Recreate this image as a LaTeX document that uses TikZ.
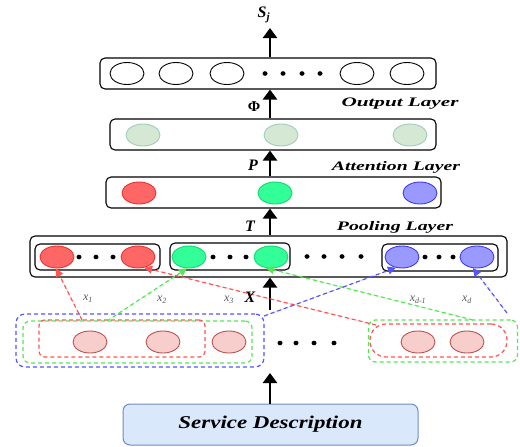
\documentclass[tikz,border=0pt]{standalone}
\usepackage{fontspec}
\setmainfont{Liberation Serif}
\usetikzlibrary{arrows.meta,shapes.geometric}
\definecolor{cred}{RGB}{255,102,102}
\definecolor{credd}{RGB}{235,50,50}
\definecolor{cgreen}{RGB}{51,255,153}
\definecolor{cgreend}{RGB}{20,215,110}
\definecolor{cblue}{RGB}{153,153,255}
\definecolor{cblued}{RGB}{60,60,240}
\definecolor{cpale}{RGB}{213,232,212}
\definecolor{cpaled}{RGB}{160,205,185}
\definecolor{cpink}{RGB}{248,206,204}
\definecolor{cpinkd}{RGB}{184,84,80}
\definecolor{csvc}{RGB}{218,232,252}
\definecolor{csvcd}{RGB}{108,142,191}
\definecolor{dred}{RGB}{255,85,85}
\definecolor{dgreen}{RGB}{85,230,85}
\definecolor{dblue}{RGB}{85,85,255}
\definecolor{lblgray}{RGB}{90,90,90}
\newcommand\lbl[3]{\resizebox{#1pt}{\height}{\fontsize{#2}{#2}\selectfont\bfseries\itshape #3}}
\begin{document}
\begin{tikzpicture}[x=1pt,y=-1pt,
  layerbox/.style={draw=black, line width=1.1pt, rounded corners=5pt, inner sep=0pt},
  cir/.style={ellipse, minimum width=34pt, minimum height=22pt, inner sep=0pt, line width=0.9pt},
  outc/.style={cir, draw=black, fill=white},
  palec/.style={cir, draw=cpaled, fill=cpale},
  redc/.style={cir, draw=credd, fill=cred},
  greenc/.style={cir, draw=cgreend, fill=cgreen},
  bluec/.style={cir, draw=cblued, fill=cblue},
  pinkc/.style={cir, draw=cpinkd, fill=cpink},
  dotn/.style={ellipse, fill=black, minimum width=5pt, minimum height=4.6pt, inner sep=0pt},
  bigarrow/.style={line width=2.4pt, -{Triangle[length=10pt,width=14pt]}},
  dashbox/.style={dashed, dash pattern=on 4pt off 3pt, line width=1.2pt, inner sep=0pt},
  darrow/.style={dash pattern=on 4pt off 3pt, line width=1.2pt, -{Triangle[length=8pt,width=8pt]}},
  xlab/.style={text=lblgray, font=\fontsize{12}{12}\selectfont\itshape},
  sym/.style={font=\fontsize{16}{16}\selectfont\bfseries\itshape}
]
\useasboundingbox (0,0) rectangle (520,447);
\coordinate (spine) at (270,0);

% layer boxes
\node[layerbox, minimum width=336pt, minimum height=31pt] (outbox) at (268,73.5) {};
\node[layerbox, minimum width=326pt, minimum height=31pt] (pale) at (273,134.5) {};
\node[layerbox, minimum width=335pt, minimum height=31pt] (rgb) at (273.5,192.5) {};
\node[layerbox, minimum width=477pt, minimum height=41pt] (pool) at (268.5,256.5) {};
\node[layerbox, minimum width=125pt, minimum height=26pt] (inA) at (97.5,257) {};
\node[layerbox, minimum width=120pt, minimum height=27pt] (inB) at (230,256.5) {};
\node[layerbox, minimum width=116pt, minimum height=27pt] (inC) at (440,257.5) {};
\node[draw=csvcd, fill=csvc, line width=1pt, rounded corners=7pt, minimum width=295pt, minimum height=41pt, inner sep=0pt] (svc) at (270.5,424.5) {\lbl{184}{18}{Service Description}};

% output circles
\node[outc] (o1) at (127,73.5) {};
\node[outc] (o2) at (176,73.5) {};
\node[outc] (o3) at (227,73.5) {};
\node[outc] (o4) at (357,73.5) {};
\node[outc] (o5) at (407,73.5) {};
\node[dotn] (od1) at (265,73.5) {};
\node[dotn] (od2) at (283,73.5) {};
\node[dotn] (od3) at (302,73.5) {};
\node[dotn] (od4) at (320,73.5) {};

% pale circles
\node[palec] (p1) at (143,135) {};
\node[palec] (p2) at (281,135) {};
\node[palec] (p3) at (410,135) {};

% rgb circles
\node[redc] (a1) at (139,193) {};
\node[greenc] (a2) at (275,193) {};
\node[bluec] (a3) at (420,193) {};

% pooling circles
\node[redc] (r1) at (57,257) {};
\node[redc] (r2) at (138,257) {};
\node[greenc] (g1) at (189,257) {};
\node[greenc] (g2) at (271,257) {};
\node[bluec] (b1) at (402,257) {};
\node[bluec] (b2) at (477,257) {};
\node[dotn] (ad1) at (79,257) {};
\node[dotn] (ad2) at (96,257) {};
\node[dotn] (ad3) at (113,257) {};
\node[dotn] (bd1) at (213,257) {};
\node[dotn] (bd2) at (230,257) {};
\node[dotn] (bd3) at (246,257) {};
\node[dotn] (md1) at (307,256.5) {};
\node[dotn] (md2) at (324,256.5) {};
\node[dotn] (md3) at (342,256.5) {};
\node[dotn] (md4) at (361,256.5) {};
\node[dotn] (cd1) at (425,257) {};
\node[dotn] (cd2) at (439,257) {};
\node[dotn] (cd3) at (453,257) {};

% embedding dashed boxes
\node[dashbox, draw=dblue, rounded corners=9pt, minimum width=248pt, minimum height=53pt] (blueL) at (140,340.5) {};
\node[dashbox, draw=dgreen, rounded corners=7pt, minimum width=229pt, minimum height=42pt] (greenL) at (137.5,342) {};
\node[dashbox, draw=dred, rounded corners=6pt, minimum width=166pt, minimum height=37pt] (redL) at (122,338.5) {};
\node[dashbox, draw=dgreen, rounded corners=7pt, minimum width=149pt, minimum height=42pt] (greenR) at (443,341) {};
\node[dashbox, draw=dred, rounded corners=16pt, minimum width=137pt, minimum height=33pt] (redR) at (438.5,340.5) {};

% pink circles
\node[pinkc] (e1) at (90,342) {};
\node[pinkc] (e2) at (163,342) {};
\node[pinkc] (e3) at (229,342) {};
\node[pinkc] (e4) at (418,342) {};
\node[pinkc] (e5) at (467,342) {};
\node[dotn] (ed1) at (280,343) {};
\node[dotn] (ed2) at (296,343) {};
\node[dotn] (ed3) at (314,343) {};
\node[dotn] (ed4) at (334,343) {};

% black arrows
\coordinate (sjtip) at (270,28);
\coordinate (xstart) at (270,310);
\coordinate (embtip) at (270,373);
\draw[bigarrow] (spine |- outbox.north) -- (sjtip);
\draw[bigarrow] (spine |- pale.north) -- (spine |- outbox.south);
\draw[bigarrow] (spine |- rgb.north) -- (spine |- pale.south);
\draw[bigarrow] (spine |- pool.north) -- (spine |- rgb.south);
\draw[bigarrow] (xstart) -- (spine |- pool.south);
\draw[bigarrow] (spine |- svc.north) -- (embtip);

% dashed arrows
\coordinate (sR1) at (82,320);
\coordinate (sG1) at (107,321);
\coordinate (sR2) at (376,325);
\coordinate (sG2) at (473,320);
\coordinate (sB1) at (264,316);
\coordinate (sB2) at (507,313);
\draw[darrow, draw=dred, fill=dred] (sR1) -- (r1.-95);
\draw[darrow, draw=dgreen, fill=dgreen] (sG1) -- (g1.-100);
\draw[darrow, draw=dred, fill=dred] (sR2) -- (r2.-60);
\draw[darrow, draw=dgreen, fill=dgreen] (sG2) -- (g2.-115);
\draw[darrow, draw=dblue, fill=dblue] (sB1) -- (b1.-120);
\draw[darrow, draw=dblue, fill=dblue] (sB2) -- (b2.-110);

% labels
\node[font=\fontsize{16}{16}\selectfont\bfseries\itshape] (sj) at (264,15) {S\textsubscript{j}};
\node[font=\fontsize{15}{15}\selectfont\bfseries] (phi) at (254,107) {Φ};
\node[sym] (plab) at (253,165) {P};
\node[sym] (tlab) at (250,226) {T};
\node[font=\fontsize{16}{16}\selectfont\bfseries\itshape] (xlab) at (250,297) {X};
\node (outlab) at (400,104) {\lbl{117}{13}{Output Layer}};
\node (attlab) at (396,167) {\lbl{128}{13}{Attention Layer}};
\node (poollab) at (395,227) {\lbl{116}{13}{Pooling Layer}};
\node[xlab] (x1) at (88,299) {x\textsubscript{1}};
\node[xlab] (x2) at (162,300) {x\textsubscript{2}};
\node[xlab] (x3) at (229,300) {x\textsubscript{3}};
\node[xlab] (xd1) at (418,300) {x\textsubscript{d-1}};
\node[xlab] (xd) at (467,300) {x\textsubscript{d}};
\end{tikzpicture}
\end{document}
